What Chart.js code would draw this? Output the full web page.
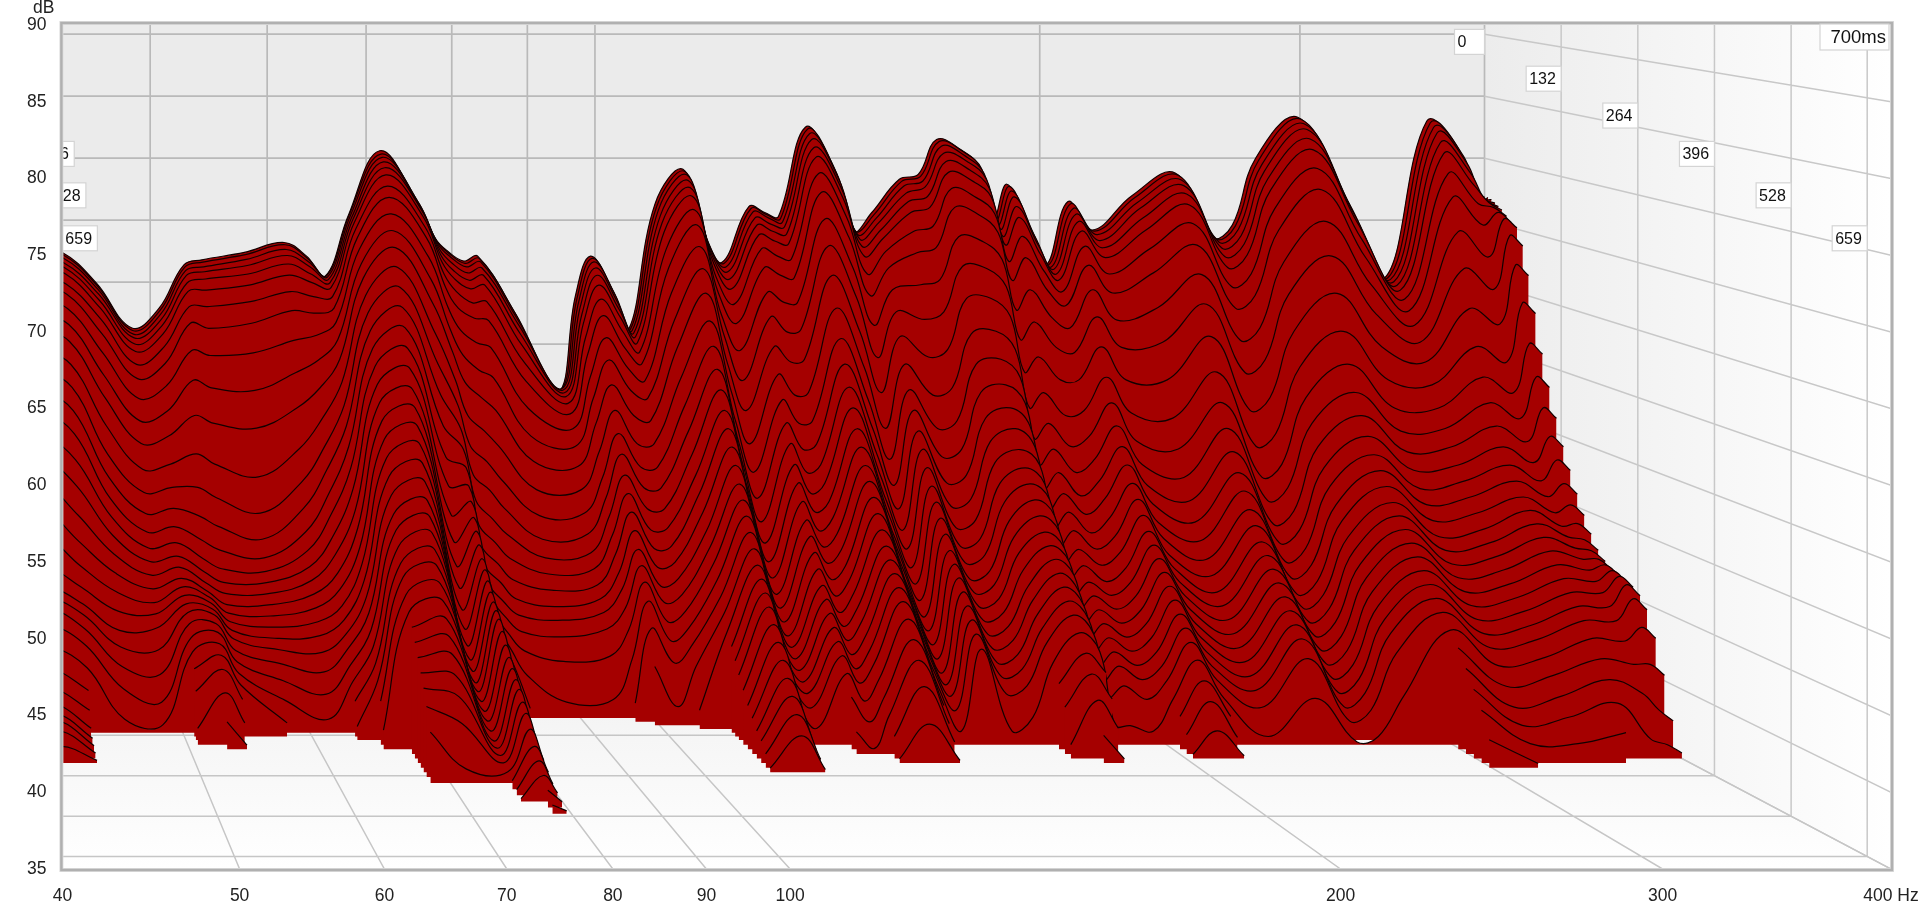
<!DOCTYPE html>
<html>
<head>
<meta charset="utf-8">
<title>Waterfall</title>
<style>
  body { margin: 0; background: #fff; }
  canvas { display: block; }
</style>
</head>
<body>
<canvas id="myChart" width="1920" height="901"></canvas>
<script src="https://cdn.jsdelivr.net/npm/chart.js@4/dist/chart.umd.min.js"></script>
<script>
// slice times (ms), back to front
const sliceMs = [0,6,12,18,24,30,38,46,56,66,76,88,100,112,124,136,148,160,172,184,196,208,220,232,244,256,268,280,295,310,325,340,355,370,385,400,420,440,460,480,500,520];

// frequency of each column in dbByFreq
const freqs = [40,41.5,43.6,46,48.6,50.7,52.7,54.2,57.9,61.6,63.8,65.7,68.1,71.5,75.7,78,79.5,81.5,83.3,88.2,94.4,97,99.3,102.7,105.4,109.8,114.7,118.5,121.9,127.1,130.4,133.1,138.8,144.8,149.6,153.9,160.7,165.5,170.3,176.8,182,186,190,196.4,202,209,217,231,247,262,270,280,299,320,342,365.6,383,392,400];

// dB read per column, one value per slice until it drops under the floor
const dbByFreq = [
[68,67.9,67.7,67.5,67.2,66.9,66.3,65.6,64.6,63.6,62.6,61.2,59.8,58.4,57,55.4,53.8,52,50.2,48.4,46.4,45.2,44.6,44,43,41.6,40.2,38.8,37.8,37.2,37,36.4,35.4],
[67.8,67.7,67.5,67.3,67,66.7,66.1,65.4,64.4,63.4,62.4,61,59.6,58.2,56.8,55.2,53.6,51.8,50,48.2,46.2,45,44.4,43.8,42.8,41.4,40,38.8,38,37.6,37.4,37,36.2],
[67.4,67.3,67.1,66.8,66.5,66.1,65.4,64.7,63.7,62.6,61.4,59.8,58.2,56.6,55,53.2,51.4,49.4,47.6,46,44.6,43.6,43,42.2,41.2,39.8,38.4,37.2,36.2,35.8,35.6,35.4,35.2],
[64.9,64.8,64.6,64.3,63.9,63.4,62.6,61.6,60.2,58.6,57,55,53,51.4,50,48.8,47.6,46.4,45.2,44,42.8,41.6,40.6,39.4,38,36],
[61.3,61.2,61,60.8,60.4,59.9,59,58,56.6,55,53.4,51.6,50,48.6,47.4,46.4,45.6,44.8,44,43.2,42.6,41.8,40.4,38.8,37,35.6],
[62.9,62.8,62.6,62.3,61.9,61.3,60.4,59.2,57.6,55.8,54,52,50.4,49,47.8,46.8,46,45.4,44.8,44.4,44,43.6,43.2,42.6,41.8,41,40,38.6,36.2],
[66.4,66.3,66.1,65.8,65.3,64.7,63.6,62.4,60.4,58.2,55.6,52.8,50.4,48.4,46.8,45.6,44.8,44.2,43.8,43.6,43.4,43.2,43,42.6,42.2,41.6,41,40.2,38.8,37],
[66.8,66.7,66.4,66.1,65.6,64.8,63.6,62,60,57.6,55,52,49.6,47.6,46,44.8,44,43.4,42.8,42.4,42,41.6,41.2,40.6,40,39.4,38.8,38,36.6,35.3],
[67.4,67.3,67,66.6,66,65.2,64,62.4,60.2,57.4,54.6,51,48.4,46.6,45.4,44.6,44,43.4,42.8,42.2,41.6,41,40.4,39.6,38.6,37.4,36],
[68.2,68.1,67.8,67.4,66.8,66,64.8,63.4,61.2,58.8,56.2,53.2,50.8,49,47.4,46.2,45.2,44.4,43.6,42.8,42,41.2,40.2,39,37.6,36],
[67.1,67,66.8,66.5,66,65.4,64.4,63.2,61.6,59.8,57.8,55.6,53.6,52,50.4,49,47.6,46.4,45.2,44.2,43.2,42.4,41.6,40.8,39.8,38.8,37.6,36],
[65.5,65.6,65.6,65.5,65.3,65,64.4,63.6,62.6,61.4,60,58.4,56.8,55.4,54,52.6,51.2,49.8,48.6,47.4,46.4,45.4,44.4,43.4,42.4,41.4,40.4,39.4,38.2,36.4],
[70.4,70.6,70.6,70.5,70.4,70.2,69.8,69.2,68.4,67.4,66.4,65.2,64,62.8,61.6,60.4,59.2,58,56.8,55.6,54.4,53.2,52,50.8,49.8,48.8,47.8,47,46,45,44.2,43.4,42.6,41.8,41,40,38.6,36.2],
[75.6,75.4,75.2,74.9,74.5,74,73.2,72.4,71.2,70,68.8,67.4,66,64.6,63.2,61.8,60.4,59,57.8,56.6,55.4,54.2,53,51.8,50.8,49.8,48.8,47.8,46.8,45.8,44.8,43.8,42.8,41.6,40.4,38.8,36],
[71.6,71.6,71.5,71.3,71.1,70.7,70,69.2,67.8,66.2,64.4,62.2,60,57.8,55.6,53.4,51.4,49.4,47.6,46,44.6,43.2,42,41,40.2,39.6,39,38.6,38.2,37.8,37.4,37,36.6,36.4,36.2,36,35.8,35.6,35.4,35.2],
[68.5,68.4,68.2,67.9,67.5,67,66.2,65.2,63.8,62.2,60.6,58.6,56.8,55.2,53.8,52.6,51.4,50.4,49.4,48.6,47.8,47,46.4,45.8,45.2,44.7,44.3,43.9,43.3,42.6,42,41.5,41,40.6,40,39.5,38.8,38,37.4,36.8,36.2,35.6],
[67.5,67.4,67.2,66.8,66.3,65.7,64.8,63.6,62,60.2,58.2,55.8,53.6,51.6,49.8,48.2,46.8,45.6,44.6,43.8,43,42.4,41.8,41.2,40.6,40.2,39.8,39.4,39,38.6,38.2,37.8,37.6,37.4,37.2,37,36.6,36.2,35.8,35.6,35.4,35.2],
[66.7,66.6,66.4,66,65.5,64.9,63.9,62.8,61,59,57,54.6,52.4,50.4,48.4,46.8,45.4,44.2,43,42,41,40,39,37.8,36],
[67.1,67,66.8,66.4,65.9,65.2,64,62.6,60.6,58.4,56,53.4,51,49,47.2,45.6,44.2,43,42,41,39.8,38.2,36],
[62.6,62.5,62.2,61.8,61.2,60.4,59.2,57.8,55.8,53.8,52,50,48.2,46.6,45.4,44.4,43.4,42.4,41.6,40.6,39,36.2],
[56.2,56.4,56.6,56.6,56.5,56.3,55.9,55.2,54.2,53,51.6,50,48.4,47,45.8,44.8,43.8,43,42.2,41.2,39.4,36.4],
[63.9,63.8,63.6,63.3,62.8,62.2,61.2,60,58.4,56.8,55,53,51.2,49.8,48.6,47.4,46.2,45,44,42.8,41.4,39.4,36.4],
[67.1,67,66.8,66.4,65.9,65.2,64.2,63,61.4,59.8,58,56.2,54.6,53.2,51.8,50.6,49.4,48.2,47,46,45,43.8,42,39.4],
[64.4,64.3,64.1,63.7,63.2,62.6,61.6,60.4,59,57.4,55.6,53.6,52,50.6,49.2,47.8,46.6,45.4,44.2,43.2,42,40.8,39.4,36.4],
[61.2,61.3,61.3,61.2,61,60.6,60,59.2,58,56.8,55.2,53.6,52,50.6,49.2,48,46.8,45.8,44.8,43.8,42.8,41.8,40.8,39.4,36.4],
[71.3,71.2,71,70.6,70.1,69.4,68.2,66.8,65,63,61,58.8,56.8,55,53.4,52,50.8,49.6,48.4,47.4,46.4,45.4,44.4,43.4,42.4,41.4,40.6,39.8,39,38.2,37.6,37,36.6,36,35.3],
[74.1,74,73.8,73.4,72.9,72.3,71.3,70.2,68.6,67,65.2,63.2,61.4,59.8,58.4,57,55.8,54.6,53.4,52.2,51.2,50.2,49.2,48.2,47.2,46.4,45.6,44.8,43.8,42.8,41.8,40.8,39.8,38.8,37.6],
[68.8,68.7,68.5,68.1,67.6,67,66,64.8,63.2,61.6,59.6,57.6,55.6,54,52.6,51.2,50,48.8,47.6,46.6,45.6,44.6,43.6,42.6,41.6,40.8,40,39.2,38.4,37.6,37,36.4,36,35.6,35.2],
[66.6,66.6,66.4,66.1,65.6,64.9,63.8,62.4,60.4,58.2,56,53.6,51.6,49.8,48.2,46.8,45.6,44.6,43.6,42.8,42,41.2,40.6,40,39.4,38.8,38.2,37.4,36.2],
[71.1,71,70.8,70.4,69.9,69.2,68.2,66.8,65,63.2,61,59,57.2,55.6,54.2,52.8,51.6,50.4,49.2,48.2,47.2,46.2,45.2,44.4,43.6,42.8,42,41.2,40.2,38.8,36.6],
[70.6,70.5,70.3,69.9,69.4,68.7,67.6,66.2,64.2,62,59.8,57.4,55.4,53.6,52,50.6,49.4,48.2,47.2,46.2,45.2,44.2,43.2,42.4,41.6,40.8,40,39.2,38.2,37,35.4],
[70.3,70.2,70,69.7,69.2,68.5,67.4,66,64.2,62.2,60,57.6,55.6,54,52.6,51.4,50.2,49.2,48.2,47.2,46.2,45.4,44.6,43.8,43,42.2,41.4,40.6,39.8,38.8,37.8,36.6,35.3],
[77.5,77.4,77.1,76.7,76.1,75.4,74.2,72.8,70.8,68.8,66.6,64.2,62,60.2,58.6,57.2,55.8,54.6,53.4,52.4,51.4,50.4,49.4,48.4,47.6,46.8,46,45.2,44.2,43,41.8,40.2,37.8],
[74.3,74.2,73.9,73.5,72.9,72.1,70.8,69.2,67,64.8,62.2,59.6,57.2,55.2,53.4,51.8,50.4,49.2,48,47,46,45,44.2,43.4,42.6,41.8,41,40.2,39.2,38.2,37.2,36.2,35.2],
[69.1,69.2,69,68.7,68.2,67.5,66.2,64.6,62.4,60,57.4,54.8,52.6,50.8,49.2,47.8,46.6,45.4,44.4,43.4,42.4,41.6,40.8,40,39.2,38.6,38,37.2,36],
[70.6,70.5,70.3,70,69.5,68.9,68,66.8,65.2,63.6,61.8,59.8,58,56.6,55.2,54,52.8,51.6,50.6,49.6,48.6,47.6,46.8,46,45.2,44.4,43.6,42.8,42,41,40,39,38,36.8],
[73.3,73.2,72.9,72.4,71.8,71,69.6,68,65.6,63,60.2,57.4,55,53,51.2,49.6,48.2,47,46,45,44.2,43.4,42.6,41.8,41,40.2,39.4,38.4,36],
[73.7,73.6,73.3,72.9,72.2,71.4,70,68.4,66,63.6,60.8,58,55.6,53.6,51.8,50.2,48.8,47.6,46.6,45.6,44.8,44,43.2,42.4,41.6,40.8,40,39,37],
[76.5,76.4,76.1,75.6,75,74.2,73,71.6,69.4,67.2,64.8,62.2,60,58,56.2,54.6,53.2,51.8,50.6,49.4,48.4,47.4,46.4,45.4,44.6,43.8,43,42.2,41,39.8,38.4,36],
[75.7,75.6,75.3,74.9,74.3,73.5,72.3,71,69,67,64.8,62.4,60.4,58.6,57,55.6,54.2,53,52,51,50,49,48.2,47.4,46.6,45.8,45,44.2,43.2,42,40.8,39.2,37],
[74.3,74.2,73.9,73.5,72.9,72.2,71,69.6,67.6,65.6,63.4,61,59,57.2,55.6,54.2,53,51.8,50.8,49.8,48.8,47.8,47,46.2,45.2,44.4,43.6,42.8,41.8,40.6,39,37.2,35.3],
[70,70,69.8,69.5,69,68.4,67.2,65.8,63.6,61.4,59,56.4,54.2,52.4,50.8,49.4,48.2,47,46,45,44,43.2,42.4,41.6,40.8,40,39.2,38.2,36.4],
[72.9,72.8,72.5,72.1,71.4,70.6,69.2,67.6,65.2,62.8,60.2,57.6,55.4,53.6,52,50.6,49.4,48.2,47,46,45,44.2,43.4,42.6,41.8,41,40.2,39,36.4],
[69.3,69.3,69.1,68.8,68.3,67.6,66.4,65,63,60.8,58.4,55.8,53.6,51.8,50.2,49,47.8,46.8,45.8,44.8,44,43.2,42.4,41.6,40.8,40,39.2,38,36],
[66.4,66.5,66.4,66.3,66,65.6,64.8,63.8,62.2,60.4,58.4,56.2,54.4,52.8,51.4,50.2,49,47.8,46.8,45.8,45,44.2,43.4,42.6,41.8,41,40.2,39.4,38.4,37.4,36.4,35.3],
[71.5,71.4,71.1,70.7,70.2,69.5,68.4,67,65.2,63.2,61,58.8,57,55.4,54,52.8,51.6,50.6,49.6,48.6,47.8,47,46.2,45.4,44.6,43.8,43,42.2,41.2,40,38.8,37],
[69.2,69.2,69,68.6,68.1,67.4,66.2,64.8,62.8,60.8,58.4,56,54,52.4,51,49.8,48.6,47.6,46.6,45.8,45,44.2,43.4,42.6,41.8,41,40.2,39.4,38.4,37.4,36.2,35.2],
[72,71.9,71.6,71.2,70.5,69.6,68.2,66.4,63.8,61.2,58.4,55.6,53.4,51.4,49.8,48.4,47.2,46,45,44,43.2,42.4,41.6,40.8,40,39.2,38.4,37.4,35.6],
[73.8,73.7,73.4,73,72.4,71.6,70.2,68.6,66.4,64.2,61.8,59.2,57,55.2,53.6,52.2,51,49.8,48.8,47.8,47,46.2,45.4,44.6,43.8,43,42.2,41,38.4],
[68.6,68.6,68.4,68,67.4,66.6,65.2,63.6,61.2,58.8,56,53.4,51.2,49.6,48,46.8,45.6,44.6,43.6,42.8,42,41.2,40.4,39.6,38.8,38,37.2,36.4,35.2],
[69.6,69.6,69.4,69,68.4,67.6,66.2,64.6,62.2,59.8,57,54.4,52.2,50.6,49,47.8,46.6,45.6,44.6,43.8,43,42.2,41.4,40.6,39.8,39,38.2,37.2,35.6],
[75,74.9,74.6,74.2,73.6,72.8,71.4,69.8,67.4,65,62.2,59.6,57.4,55.6,54,52.6,51.4,50.2,49.2,48.2,47.4,46.6,45.8,45,44.2,43.4,42.6,41.4,38.6],
[78.3,78.2,77.9,77.5,76.8,76,74.6,73,70.6,68,65.2,62.4,60,58,56.4,55,53.8,52.8,51.8,50.8,50,49.2,48.4,47.6,46.8,46,45.2,44.4,43.4,42.4,41.2,40,38.8,37],
[72,71.9,71.7,71.3,70.8,70.2,69,67.6,65.6,63.4,61,58.6,56.6,55,53.6,52.4,51.2,50.2,49.2,48.2,47.4,46.6,45.8,45,44.2,43.4,42.6,41.8,40.8,39.6,38.4,37.4,36.4,35.3],
[65.3,65.4,65.4,65.3,65.1,64.8,64.2,63.4,62.4,61.2,59.8,58.2,56.6,55.2,54,52.8,51.8,50.8,49.8,48.8,48,47.2,46.4,45.6,44.8,44,43.2,42.4,41.4,40.4,39.2,38,36.4],
[78,77.9,77.6,77.2,76.5,75.7,74.2,72.4,69.8,67,64,61.2,59,57.2,55.6,54.2,53,52,51,50.2,49.4,48.6,47.8,47,46.2,45.4,44.6,43.8,42.8,41.6,40.4,39,37.2],
[75.7,75.6,75.3,74.8,74.1,73.2,71.8,70.2,67.8,65.4,62.8,60,57.8,56,54.4,53,51.8,50.8,49.8,49,48.4,47.8,47.2,46.6,46,45.4,44.6,43.8,42.6,41.2,39.4,36.4],
[70.9,71.4,71.9,72,71.9,71.8,71.5,71.2,70.8,69.6,67.4,64.6,61.6,59.2,57,55,53.4,51.8,50.4,49.2,48.2,47.6,47.2,47,46.8,46.6,46.2,45.4,43.6,41.2,38.2,36],
[71.9,71.9,71.8,71.6,71.4,71.2,70.8,70.4,70.1,68.8,66.6,63.8,60.8,58.4,56.2,54.2,52.6,51,49.6,48.4,47.4,46.8,46.4,46.2,46,45.8,45.4,44.6,42.8,40.4,37.4,35.4]
];

const gridHz = [40,50,60,70,80,90,100,200,300,400];
const gridDb = [35,40,45,50,55,60,65,70,75,80,85];
const gridMs = [132,264,396,528,659];
const yTicks = [35,40,45,50,55,60,65,70,75,80,85,90];

// wall labels: ms text, y on the dB axis
const wallMs = [0,132,264,396,528,659];
const wallLabelY = [88.9,86.5,84.1,81.6,78.9,76.1];
// the same labels again at the left edge, cut by the frame
const leftMs = [396,528,659];
const leftLabelHz = [40.6,41.2,41.8];
const leftLabelY = [81.6,78.9,76.1];

// the chart's own axes are the front plane (700 ms); the back wall is that plane shrunk
const maxMs = 700;
const backScale = 0.808;
const backShift = -0.0303;
const backFloor = 49;

function depthScale(u) { return backScale + (1 - backScale) * u }
function planeX(hz, ms) {
    const u = ms / maxMs;
    return 40 * Math.pow(10, backShift * (1 - u) + depthScale(u) * Math.log10(hz / 40));
}
function planeY(db, ms) {
    const u = ms / maxMs;
    return backFloor * (1 - u) + 35 * u + depthScale(u) * (db - 35);
}

// several separate segments in one dataset
function segments(list, color, width) {
    const data = [];
    list.forEach((seg) => { data.push(seg[0], seg[1], {x: seg[1].x, y: null}) });
    return {data: data, borderColor: color, borderWidth: width, pointRadius: 0, tension: 0, fill: false, spanGaps: false};
}

const backCornerX = planeX(400, 0);
const floorBackY = planeY(35, 0);

const datasets = [];

datasets.push({ // back wall
    data: [{x: 40, y: floorBackY}, {x: backCornerX, y: floorBackY}],
    backgroundColor: '#ebebeb', fill: {value: 90}, borderWidth: 0, pointRadius: 0, tension: 0
});
datasets.push({ // side wall
    data: [{x: backCornerX, y: floorBackY}, {x: 400, y: 35}],
    backgroundColor: (ctx) => {
        const c = ctx.chart;
        if (!c.chartArea) return '#f4f4f4';
        const g = c.ctx.createLinearGradient(c.scales.x.getPixelForValue(backCornerX), 0, c.scales.x.getPixelForValue(400), 0);
        g.addColorStop(0, '#ececec');
        g.addColorStop(1, '#ffffff');
        return g;
    },
    fill: {value: 90}, borderWidth: 0, pointRadius: 0, tension: 0
});
datasets.push({ // floor
    data: [{x: 40, y: floorBackY}, {x: backCornerX, y: floorBackY}, {x: 400, y: 35}],
    backgroundColor: (ctx) => {
        const c = ctx.chart;
        if (!c.chartArea) return '#f8f8f8';
        const g = c.ctx.createLinearGradient(0, c.scales.y.getPixelForValue(floorBackY), 0, c.scales.y.getPixelForValue(35));
        g.addColorStop(0, '#f0f0f0');
        g.addColorStop(1, '#ffffff');
        return g;
    },
    fill: {value: 35}, borderWidth: 0, pointRadius: 0, tension: 0
});

// grid on back wall
const backLines = [];
gridDb.forEach((db) => backLines.push([{x: 40, y: planeY(db, 0)}, {x: backCornerX, y: planeY(db, 0)}]));
gridHz.forEach((hz) => backLines.push([{x: planeX(hz, 0), y: floorBackY}, {x: planeX(hz, 0), y: 90}]));
datasets.push(segments(backLines, '#b9b9b9', 1.7));

// grid on side wall
const sideLines = [];
gridDb.forEach((db) => sideLines.push([{x: backCornerX, y: planeY(db, 0)}, {x: 400, y: planeY(db, maxMs)}]));
gridMs.forEach((ms) => sideLines.push([{x: planeX(400, ms), y: planeY(35, ms)}, {x: planeX(400, ms), y: 90}]));
datasets.push(segments(sideLines, '#c8c8c8', 1.5));

// grid on floor
const floorLines = [];
gridHz.forEach((hz) => floorLines.push([{x: planeX(hz, 0), y: floorBackY}, {x: planeX(hz, maxMs), y: 35}]));
gridMs.forEach((ms) => floorLines.push([{x: 40, y: planeY(35, ms)}, {x: planeX(400, ms), y: planeY(35, ms)}]));
datasets.push(segments(floorLines, '#c6c6c6', 1.5));

const firstSlice = datasets.length;

sliceMs.forEach((ms, s) => {
    const data = freqs.map((hz, i) => {
        const db = dbByFreq[i][s];
        return {x: planeX(hz, ms), y: db === undefined ? null : planeY(db, ms)};
    });
    datasets.push({
        data: data,
        backgroundColor: '#a50000',
        borderColor: '#120000',
        borderWidth: 1.2,
        pointRadius: 0,
        tension: 0.4,
        spanGaps: false,
        fill: {value: planeY(35, ms)}
    });
});

// first dataset ends up on top in Chart.js, so give the back ones the high order
datasets.forEach((d, i) => { d.order = datasets.length - i; d.showLine = true });

const labelFont = '"Liberation Sans", Arial, sans-serif';

const wallText = {
    id: 'wallText',
    beforeDatasetDraw(chart, args) {
        if (args.index !== firstSlice) return;
        const c = chart.ctx, x = chart.scales.x, y = chart.scales.y, area = chart.chartArea;
        function box(right, yVal, text, w, h) {
            const px = x.getPixelForValue(right), py = y.getPixelForValue(yVal);
            c.fillStyle = '#ffffff';
            c.strokeStyle = '#d4d4d4';
            c.lineWidth = 1.2;
            c.fillRect(px - w, py - h / 2, w, h);
            c.strokeRect(px - w, py - h / 2, w, h);
            c.fillStyle = '#111';
            c.font = '16px ' + labelFont;
            c.textAlign = 'left';
            c.textBaseline = 'middle';
            c.fillText(text, px - w + 3, py + 1);
        }
        c.save();
        c.beginPath();
        c.rect(area.left, area.top, area.width, area.height);
        c.clip();
        wallMs.forEach((ms, i) => box(planeX(400, ms), wallLabelY[i], String(ms), ms === 0 ? 30 : 35, 25));
        leftMs.forEach((ms, i) => box(leftLabelHz[i], leftLabelY[i], String(ms), 35, 25));
        c.restore();
    },
    afterDraw(chart) {
        const c = chart.ctx, a = chart.chartArea;
        c.save();
        c.lineWidth = 4;
        c.strokeStyle = '#dcdcdc';
        c.strokeRect(a.left - 1, a.top - 2, a.width + 2, a.height + 3);
        c.lineWidth = 2.4;
        c.strokeStyle = '#b0b0b0';
        c.strokeRect(a.left - 1, a.top - 2, a.width + 2, a.height + 3);
        // end of the time axis, top right
        const px = a.right - 2;
        c.fillStyle = '#ffffff';
        c.strokeStyle = '#d4d4d4';
        c.lineWidth = 1.2;
        c.fillRect(px - 69, a.top - 1, 69, 26);
        c.strokeRect(px - 69, a.top - 1, 69, 26);
        c.fillStyle = '#111';
        c.font = '18.5px ' + labelFont;
        c.textBaseline = 'middle';
        c.textAlign = 'right';
        c.fillText(maxMs + 'ms', px - 3, a.top + 13);
        c.font = '17.5px ' + labelFont;
        c.fillStyle = '#222';
        c.fillText('dB', a.left - 8, 8);
        c.restore();
    }
};

new Chart(document.querySelector('#myChart').getContext('2d'), {
    type: 'scatter',
    data: {datasets: datasets},
    plugins: [wallText],
    options: {
        responsive: false,
        animation: false,
        events: [],
        layout: {padding: {top: 25, right: 29, left: 0, bottom: 0}},
        plugins: {legend: {display: false}, tooltip: {enabled: false}},
        scales: {
            x: {
                type: 'logarithmic',
                min: 40,
                max: 400,
                grid: {display: false},
                border: {display: false},
                afterBuildTicks: (axis) => { axis.ticks = gridHz.map((v) => ({value: v})) },
                afterFit: (axis) => { axis.height = 32; axis.paddingRight = 0; axis.paddingLeft = 0 },
                ticks: {
                    autoSkip: false,
                    maxRotation: 0,
                    padding: 9,
                    color: '#222',
                    font: {family: labelFont, size: 17.5},
                    callback: (v) => (v === 400 ? '400 Hz' : String(v))
                }
            },
            y: {
                type: 'linear',
                min: 35,
                max: 90,
                grid: {display: false},
                border: {display: false},
                afterBuildTicks: (axis) => { axis.ticks = yTicks.map((v) => ({value: v})) },
                afterFit: (axis) => { axis.width = 62.4; axis.paddingTop = 0; axis.paddingBottom = 0 },
                ticks: {
                    autoSkip: false,
                    padding: 8,
                    color: '#222',
                    font: {family: labelFont, size: 17.5}
                }
            }
        }
    }
});
</script>
</body>
</html>
